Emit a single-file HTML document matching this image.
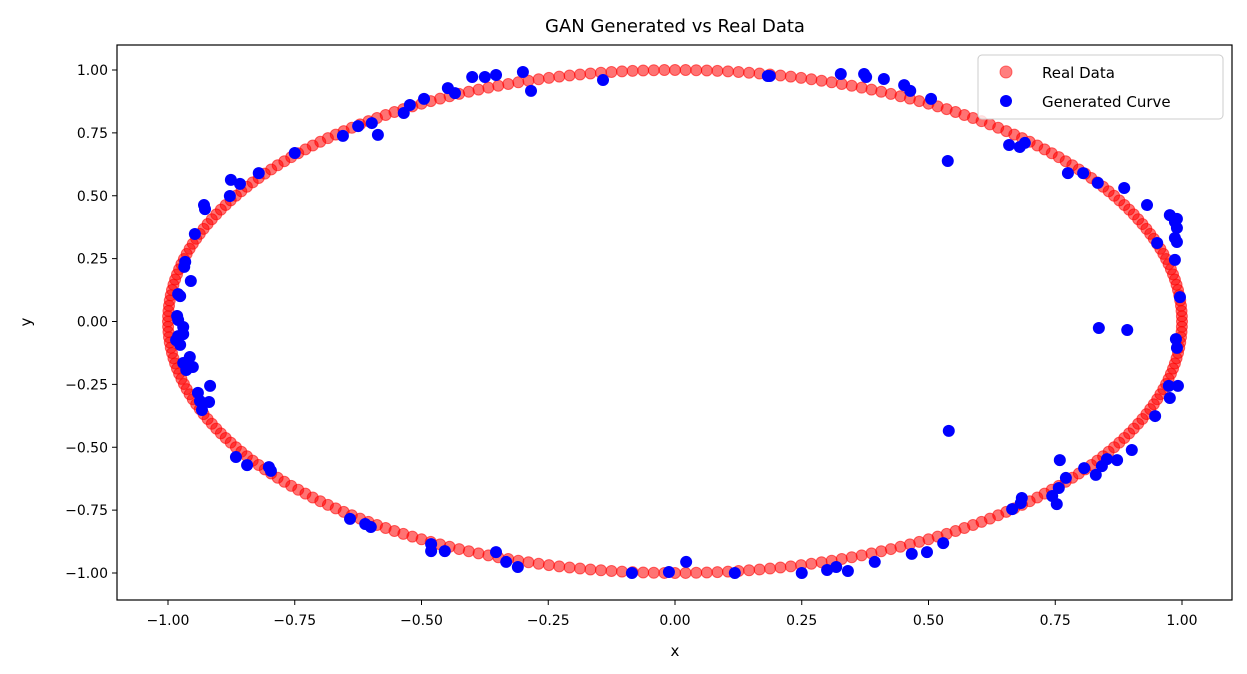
<!DOCTYPE html>
<html><head><meta charset="utf-8"><style>
body{margin:0;background:#fff;}
svg{display:block;font-family:"DejaVu Sans","Liberation Sans",sans-serif;}
</style></head><body>
<svg id="chart" width="1247" height="674">
<rect width="1247" height="674" fill="#fff"/>
<text x="675" y="32" font-size="18" text-anchor="middle">GAN Generated vs Real Data</text>
<g id="axes"></g>
<g id="real"></g>
<g id="gen"></g>
<rect x="117" y="45" width="1115" height="555" fill="none" stroke="#000" stroke-width="1.2"/>
<text x="675" y="656" font-size="15" text-anchor="middle">x</text>
<text x="31" y="322" font-size="15" text-anchor="middle" transform="rotate(-90 31 322)">y</text>
<g>
<rect x="978" y="55" width="245" height="64" rx="4" fill="#fff" fill-opacity="0.8" stroke="#ccc"/>
<circle cx="1006" cy="72" r="6" fill="rgba(255,0,0,0.5)" stroke="rgba(255,0,0,0.5)"/>
<text x="1042" y="78" font-size="15">Real Data</text>
<circle cx="1006" cy="101" r="6" fill="#0000ff"/>
<text x="1042" y="107" font-size="15">Generated Curve</text>
</g>
</svg>
<script>
const ticks=[-1,-0.75,-0.5,-0.25,0,0.25,0.5,0.75,1];
const tickLabels=["−1.00","−0.75","−0.50","−0.25","0.00","0.25","0.50","0.75","1.00"];
const realCount=300;
const genX=[-0.535,-0.523,-0.495,-0.448,-0.434,-0.400,-0.375,-0.353,-0.300,-0.284,-0.142,0.183,0.187,0.327,0.373,0.377,0.412,0.452,0.464,0.505,0.538,
-0.655,-0.625,-0.598,-0.586,-0.750,-0.821,-0.858,-0.876,-0.878,-0.929,-0.927,-0.947,-0.966,-0.968,-0.955,-0.980,-0.976,-0.982,-0.980,-0.970,-0.980,-0.984,-0.976,-0.970,-0.964,-0.957,-0.970,-0.951,-0.941,-0.937,-0.933,-0.917,-0.919,
-0.866,-0.844,-0.801,-0.797,-0.641,-0.611,-0.600,-0.481,-0.481,-0.454,-0.353,-0.333,-0.310,-0.085,-0.012,0.022,0.118,0.250,0.300,0.318,0.341,0.394,0.467,0.497,0.529,0.540,
0.659,0.680,0.690,0.775,0.805,0.834,0.886,0.931,0.951,0.976,0.986,0.990,0.990,0.986,0.990,0.996,0.836,0.892,0.988,0.990,0.986,0.992,0.974,0.976,0.947,0.901,0.759,0.872,0.852,0.842,0.830,0.807,0.771,0.757,0.753,0.684,0.682,0.665,0.744];
const genY=[0.829,0.861,0.885,0.928,0.908,0.972,0.972,0.980,0.992,0.917,0.960,0.976,0.976,0.984,0.984,0.972,0.964,0.940,0.917,0.885,0.638,
0.738,0.777,0.789,0.742,0.670,0.590,0.547,0.563,0.499,0.463,0.447,0.348,0.237,0.217,0.161,0.109,0.101,0.022,0.006,-0.022,-0.058,-0.074,-0.093,-0.050,-0.193,-0.141,-0.165,-0.181,-0.284,-0.316,-0.352,-0.256,-0.320,
-0.539,-0.571,-0.579,-0.594,-0.785,-0.805,-0.817,-0.885,-0.913,-0.913,-0.917,-0.956,-0.976,-1.000,-0.996,-0.956,-1.000,-1.000,-0.988,-0.976,-0.992,-0.956,-0.924,-0.917,-0.881,-0.435,
0.702,0.694,0.710,0.590,0.590,0.551,0.531,0.463,0.312,0.423,0.396,0.408,0.372,0.332,0.316,0.097,-0.026,-0.034,-0.070,-0.105,0.245,-0.256,-0.256,-0.304,-0.376,-0.511,-0.551,-0.551,-0.547,-0.575,-0.610,-0.583,-0.622,-0.662,-0.726,-0.702,-0.722,-0.746,-0.694];

const NS="http://www.w3.org/2000/svg";
const sx=v=>675+v*507;
const sy=v=>321.5-v*251.5;
function mk(tag,attrs,parent){const e=document.createElementNS(NS,tag);for(const k in attrs)e.setAttribute(k,attrs[k]);parent.appendChild(e);return e;}
const axes=document.getElementById('axes');
ticks.forEach((t,i)=>{
  const lx=mk('line',{x1:sx(t),x2:sx(t),y1:600,y2:605,stroke:'#000'},axes);
  
  
  const tx=mk('text',{x:sx(t),y:625,'font-size':14,'text-anchor':'middle'},axes);
  tx.textContent=tickLabels[i];
  
  
  const ly=mk('line',{x1:112,x2:117,y1:sy(t),y2:sy(t),stroke:'#000'},axes);
  
  
  const ty=mk('text',{x:108,y:sy(t)+5,'font-size':14,'text-anchor':'end'},axes);
  ty.textContent=tickLabels[i];
  
  
});
const real=document.getElementById('real');
for(let i=0;i<realCount;i++){
  const a=2*Math.PI*i/realCount;
  const c=mk('circle',{cx:sx(Math.cos(a)),cy:sy(Math.sin(a)),r:5.5,fill:'rgba(255,0,0,0.55)',stroke:'rgba(255,0,0,0.55)','stroke-width':1},real);
  
  
}
const gen=document.getElementById('gen');
genX.forEach((x,i)=>{
  const c=mk('circle',{cx:sx(x),cy:sy(genY[i]),r:6,fill:'#0000ff'},gen);
  
  
});
</script>
</body></html>
